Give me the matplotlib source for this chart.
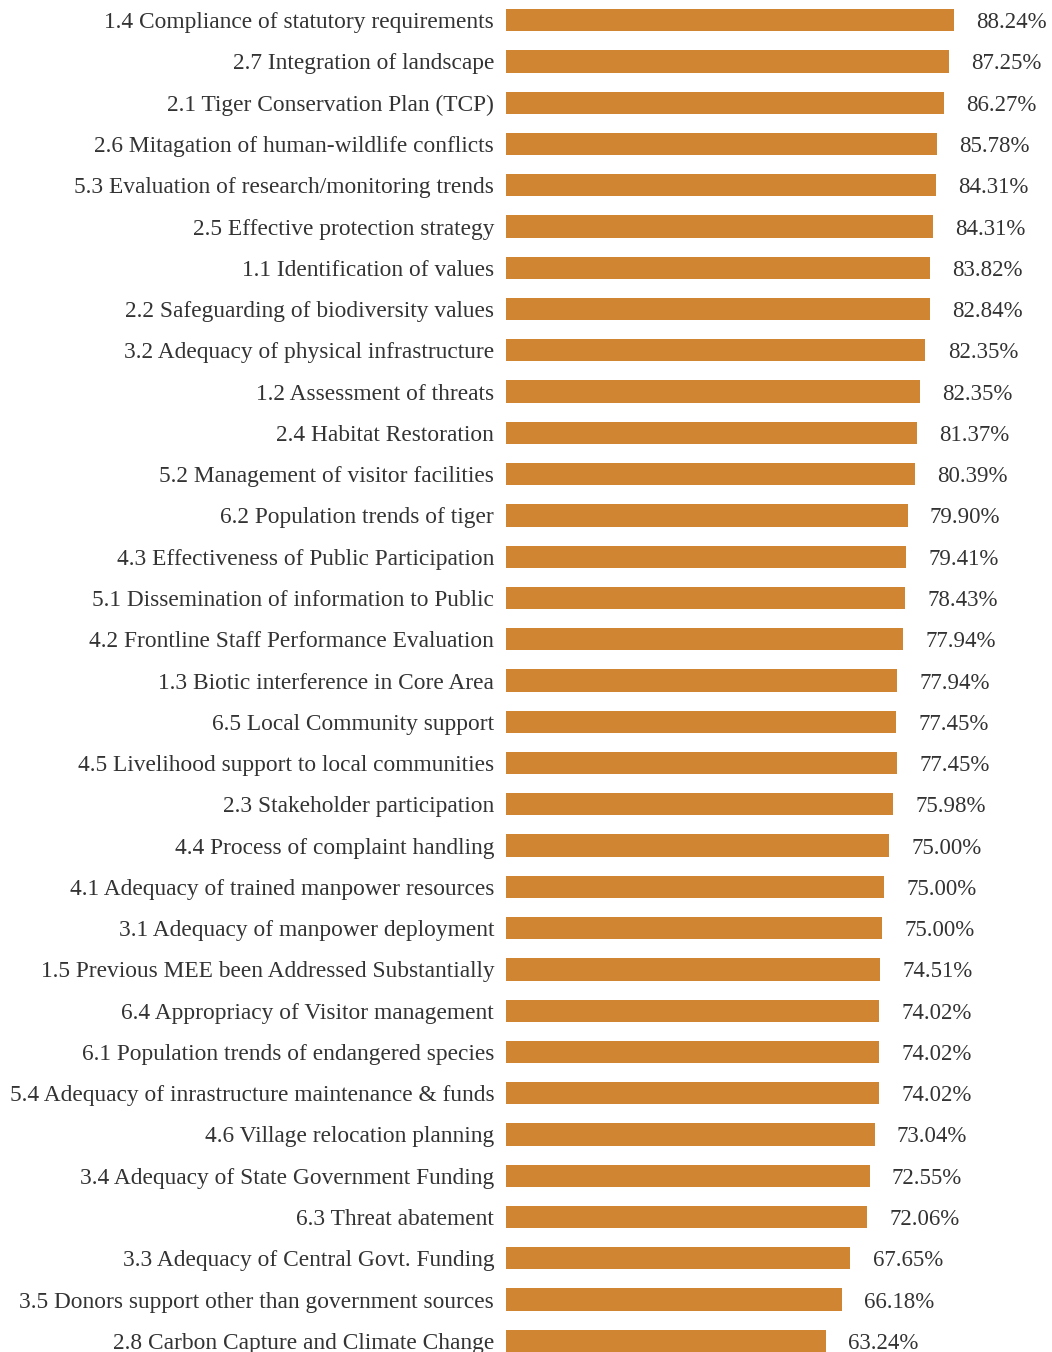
import matplotlib
matplotlib.use("Agg")
from matplotlib import pyplot as plt

labels = [
    "1.4 Compliance of statutory requirements",
    "2.7 Integration of landscape",
    "2.1 Tiger Conservation Plan (TCP)",
    "2.6 Mitagation of human-wildlife conflicts",
    "5.3 Evaluation of research/monitoring trends",
    "2.5 Effective protection strategy",
    "1.1 Identification of values",
    "2.2 Safeguarding of biodiversity values",
    "3.2 Adequacy of physical infrastructure",
    "1.2 Assessment of threats",
    "2.4 Habitat Restoration",
    "5.2 Management of visitor facilities",
    "6.2 Population trends of tiger",
    "4.3 Effectiveness of Public Participation",
    "5.1 Dissemination of information to Public",
    "4.2 Frontline Staff Performance Evaluation",
    "1.3 Biotic interference in Core Area",
    "6.5 Local Community support",
    "4.5 Livelihood support to local communities",
    "2.3 Stakeholder participation",
    "4.4 Process of complaint handling",
    "4.1 Adequacy of trained manpower resources",
    "3.1 Adequacy of manpower deployment",
    "1.5 Previous MEE been Addressed Substantially",
    "6.4 Appropriacy of Visitor management",
    "6.1 Population trends of endangered species",
    "5.4 Adequacy of inrastructure maintenance & funds",
    "4.6 Village relocation planning",
    "3.4 Adequacy of State Government Funding",
    "6.3 Threat abatement",
    "3.3 Adequacy of Central Govt. Funding",
    "3.5 Donors support other than government sources",
    "2.8 Carbon Capture and Climate Change",
]

# bar lengths as drawn (approx) and the printed labels
values = [88.24, 87.25, 86.27, 84.8, 84.6, 84.1, 83.5, 83.5, 82.6, 81.6, 80.9, 80.5,
          79.1, 78.8, 78.6, 78.2, 77.0, 76.9, 77.0, 76.2, 75.4, 74.5, 74.1,
          73.7, 73.5, 73.5, 73.5, 72.6, 71.6, 71.2, 67.8, 66.1, 63.0]
value_text = ["88.24%", "87.25%", "86.27%", "85.78%", "84.31%", "84.31%", "83.82%",
              "82.84%", "82.35%", "82.35%", "81.37%", "80.39%", "79.90%", "79.41%",
              "78.43%", "77.94%", "77.94%", "77.45%", "77.45%", "75.98%", "75.00%",
              "75.00%", "75.00%", "74.51%", "74.02%", "74.02%", "74.02%", "73.04%",
              "72.55%", "72.06%", "67.65%", "66.18%", "63.24%"]

plt.rcParams["font.family"] = ["Liberation Serif", "DejaVu Serif"]

fig = plt.figure(figsize=(10.52, 13.52), dpi=100)
ax = fig.add_axes([506 / 1052, 0, 546 / 1052, 1343 / 1352])

y = list(range(len(labels)))
ax.barh(y, values, height=0.54, color="#D08532")

for i, (v, t) in enumerate(zip(values, value_text)):
    ax.text(v + 4.4, i, t, va="center_baseline", ha="left", fontsize=16.5, color="#333333")

ax.set_yticks(y)
ax.set_yticklabels(labels, fontsize=16.8, color="#333333", va="center_baseline")
ax.tick_params(axis="y", length=0, pad=8.5)
ax.set_xticks([])
ax.set_xlim(0, 546 / 5.077)
ax.set_ylim(32.27, -0.27)
for s in ax.spines.values():
    s.set_visible(False)

fig.savefig("out.png", dpi=100)
